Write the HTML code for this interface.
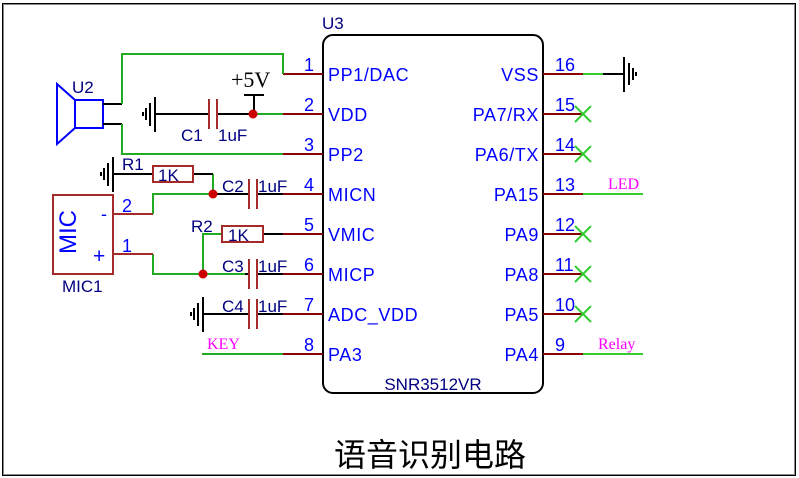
<!DOCTYPE html>
<html><head><meta charset="utf-8"><style>
html,body{margin:0;padding:0;background:#fff;width:799px;height:478px;overflow:hidden}
svg{display:block}
.a{font-family:"Liberation Sans",sans-serif}
</style></head><body>
<svg width="799" height="478" viewBox="0 0 799 478" xmlns="http://www.w3.org/2000/svg">
<rect x="3" y="4" width="792" height="471" fill="none" stroke="#000" stroke-width="2"/>
<rect x="3.5" y="4.5" width="791" height="470" fill="none" stroke="#888" stroke-width="1"/>
<!-- chip -->
<rect x="323" y="35" width="220" height="358" rx="10" fill="none" stroke="#000" stroke-width="2"/>
<text x="322" y="29" class="a" font-size="17" fill="#000080">U3</text>
<text x="433" y="390" class="a" font-size="17" fill="#000080" text-anchor="middle">SNR3512VR</text>
<g stroke="#8b0000" stroke-width="2">
<line x1="283" y1="74" x2="323" y2="74"/><line x1="283" y1="114" x2="323" y2="114"/>
<line x1="283" y1="154" x2="323" y2="154"/><line x1="283" y1="194" x2="323" y2="194"/>
<line x1="283" y1="234" x2="323" y2="234"/><line x1="283" y1="274" x2="323" y2="274"/>
<line x1="283" y1="314" x2="323" y2="314"/><line x1="283" y1="354" x2="323" y2="354"/>
<line x1="543" y1="74" x2="583" y2="74"/><line x1="543" y1="114" x2="583" y2="114"/>
<line x1="543" y1="154" x2="583" y2="154"/><line x1="543" y1="194" x2="583" y2="194"/>
<line x1="543" y1="234" x2="583" y2="234"/><line x1="543" y1="274" x2="583" y2="274"/>
<line x1="543" y1="314" x2="583" y2="314"/><line x1="543" y1="354" x2="583" y2="354"/>
</g>
<g class="a" font-size="18" fill="#0000ff" letter-spacing="0.6">
<text x="328" y="81">PP1/DAC</text><text x="328" y="121">VDD</text><text x="328" y="161">PP2</text>
<text x="328" y="201">MICN</text><text x="328" y="241">VMIC</text><text x="328" y="281">MICP</text>
<text x="328" y="321">ADC_VDD</text><text x="328" y="361">PA3</text>
<g text-anchor="end"><text x="539" y="81">VSS</text><text x="539" y="121">PA7/RX</text><text x="539" y="161">PA6/TX</text>
<text x="539" y="201">PA15</text><text x="539" y="241">PA9</text><text x="539" y="281">PA8</text>
<text x="539" y="321">PA5</text><text x="539" y="361">PA4</text></g>
<g text-anchor="end" letter-spacing="0"><text x="314" y="71">1</text><text x="314" y="111">2</text><text x="314" y="151">3</text>
<text x="314" y="191">4</text><text x="314" y="231">5</text><text x="314" y="271">6</text>
<text x="314" y="311">7</text><text x="314" y="351">8</text></g>
<g letter-spacing="0">
<text x="555" y="71">16</text><text x="555" y="111">15</text><text x="555" y="151">14</text>
<text x="555" y="191">13</text><text x="555" y="231">12</text><text x="555" y="271">11</text>
<text x="555" y="311">10</text><text x="555" y="351">9</text></g>
</g>
<!-- right side -->
<g stroke="#33cc33" stroke-width="2" fill="none">
<line x1="583" y1="74" x2="603" y2="74"/>
<line x1="583" y1="194" x2="643" y2="194"/>
<line x1="583" y1="354" x2="643" y2="354"/>
<path d="M575 106l16 16M591 106l-16 16M575 146l16 16M591 146l-16 16M575 226l16 16M591 226l-16 16M575 266l16 16M591 266l-16 16M575 306l16 16M591 306l-16 16"/>
</g>
<g stroke="#000" stroke-width="2"><line x1="603" y1="74" x2="623" y2="74"/><line x1="624" y1="57" x2="624" y2="92"/><line x1="629" y1="63" x2="629" y2="85"/><line x1="633" y1="68" x2="633" y2="80"/><line x1="636" y1="72" x2="636" y2="76"/></g>
<text x="608" y="189" font-family="Liberation Serif,serif" font-size="16" fill="#ff00ff">LED</text>
<text x="598" y="349" font-family="Liberation Serif,serif" font-size="16" fill="#ff00ff">Relay</text>
<!-- speaker -->
<g stroke="#0000ff" stroke-width="2" fill="none">
<rect x="75" y="100" width="28" height="28"/>
<path d="M75 100L57 84V144L75 128"/>
</g>
<text x="72" y="93" class="a" font-size="17" fill="#000080">U2</text>
<g stroke="#000" stroke-width="2"><line x1="103" y1="104" x2="122" y2="104"/><line x1="103" y1="124" x2="122" y2="124"/></g>
<g stroke="#22aa22" stroke-width="2" fill="none">
<path d="M122 104V54H283V74"/>
<path d="M122 124V154H283"/>
<line x1="253" y1="114" x2="283" y2="114"/>
<path d="M153 214V194H213V174"/>
<path d="M153 254V274H245"/>
<path d="M203 274V234H222"/>
<line x1="202" y1="354" x2="283" y2="354"/>
</g>
<g stroke="#000" stroke-width="2">
<line x1="155" y1="114" x2="208" y2="114"/><line x1="218" y1="114" x2="253" y2="114"/>
<line x1="254" y1="95" x2="254" y2="114"/><line x1="244" y1="95" x2="264" y2="95"/>
<line x1="155" y1="97" x2="155" y2="132"/><line x1="150" y1="103" x2="150" y2="126"/><line x1="146" y1="108" x2="146" y2="120"/><line x1="143" y1="112" x2="143" y2="116"/>
<line x1="113" y1="174" x2="153" y2="174"/><line x1="193" y1="174" x2="213" y2="174"/>
<line x1="113" y1="157" x2="113" y2="192"/><line x1="108" y1="163" x2="108" y2="186"/><line x1="104" y1="168" x2="104" y2="180"/><line x1="101" y1="172" x2="101" y2="176"/>
<line x1="213" y1="194" x2="248" y2="194"/><line x1="258" y1="194" x2="283" y2="194"/>
<line x1="263" y1="234" x2="283" y2="234"/>
<line x1="245" y1="274" x2="248" y2="274"/><line x1="258" y1="274" x2="283" y2="274"/>
<line x1="203" y1="314" x2="248" y2="314"/><line x1="258" y1="314" x2="283" y2="314"/>
<line x1="203" y1="297" x2="203" y2="332"/><line x1="198" y1="303" x2="198" y2="326"/><line x1="194" y1="308" x2="194" y2="320"/><line x1="191" y1="312" x2="191" y2="316"/>
</g>
<g stroke="#a52a2a" stroke-width="2" fill="none">
<line x1="209" y1="99" x2="209" y2="129"/><line x1="217" y1="99" x2="217" y2="129"/>
<line x1="249" y1="179" x2="249" y2="209"/><line x1="257" y1="179" x2="257" y2="209"/>
<line x1="249" y1="259" x2="249" y2="289"/><line x1="257" y1="259" x2="257" y2="289"/>
<line x1="249" y1="299" x2="249" y2="329"/><line x1="257" y1="299" x2="257" y2="329"/>
<rect x="153" y="166" width="40" height="16"/>
<rect x="222" y="226" width="41" height="16"/>
<rect x="53" y="195" width="60" height="79"/>
<line x1="113" y1="214" x2="153" y2="214"/><line x1="113" y1="254" x2="153" y2="254"/>
</g>
<g fill="#cc0000"><circle cx="253" cy="114" r="4.5"/><circle cx="213" cy="194" r="4.5"/><circle cx="203" cy="274" r="4.5"/></g>
<text x="231" y="87" font-family="Liberation Serif,serif" font-size="22" fill="#000">+5V</text>
<g class="a" font-size="17" fill="#000080">
<text x="181" y="141">C1</text><text x="218" y="141">1uF</text>
<text x="122" y="170">R1</text><text x="158" y="181">1K</text>
<text x="222" y="192">C2</text><text x="258" y="192">1uF</text>
<text x="191" y="232">R2</text><text x="228" y="241">1K</text>
<text x="222" y="272">C3</text><text x="258" y="272">1uF</text>
<text x="222" y="312">C4</text><text x="258" y="312">1uF</text>
<text x="62" y="292">MIC1</text>
</g>
<text x="207" y="349" font-family="Liberation Serif,serif" font-size="16" fill="#ff00ff">KEY</text>
<g class="a" font-size="18" fill="#0000ff">
<text x="122" y="212">2</text><text x="122" y="252">1</text>
<text x="101" y="220">-</text><text x="93" y="263" font-size="21">+</text>
<text transform="translate(76,254) rotate(-90)" font-size="24">MIC</text>
</g>
<text x="430" y="466" font-family="Liberation Sans,'Noto Sans CJK SC',sans-serif" font-size="32" fill="#000" text-anchor="middle">语音识别电路</text>
</svg>
</body></html>
